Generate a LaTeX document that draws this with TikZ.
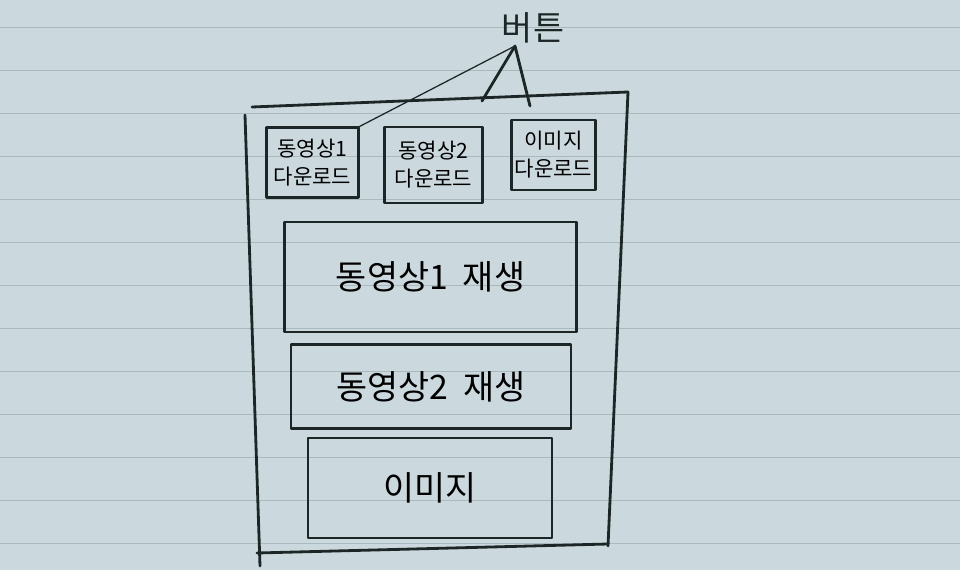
\documentclass[tikz,border=0pt]{standalone}
\usepackage{fontspec}
\newfontfamily\kfont{Noto Sans CJK KR}
\usetikzlibrary{positioning}
\definecolor{paper}{HTML}{CBD9DE}
\definecolor{ruleline}{HTML}{A9B9BE}
\definecolor{ink}{HTML}{1C2626}

\begin{document}
\begin{tikzpicture}[x=0.025cm,y=-0.025cm,
  pen/.style={draw=ink,line width=2pt,line cap=round,line join=round},
  thinpen/.style={draw=ink,line width=0.9pt,line cap=round},
  btnbox/.style={pen,inner sep=0pt,align=center,font=\kfont\fontsize{15}{20}\selectfont},
  playbox/.style={pen,inner sep=0pt,font=\kfont\fontsize{24}{28}\selectfont}]
\fill[paper] (0,0) rectangle (960,570);
\useasboundingbox (0,0) rectangle (960,570);
% paper lines
\foreach \n in {0,...,12}
  \draw[ruleline,line width=1pt] (0,27.5+43*\n) -- (960,27.5+43*\n);
% outer frame
\draw[pen] (252,107) -- (628,92);
\draw[pen] (628,92) -- (608,546);
\draw[pen] (245,115) -- (260,566);
\draw[pen] (257,553) -- (608,544);
% buttons
\node[btnbox,minimum width=2.28cm,minimum height=1.73cm] (dl1) at (312.5,162.5) {동영상1\\다운로드};
\node[btnbox,minimum width=2.43cm,minimum height=1.9cm] (dl2) at (433.5,165) {동영상2\\다운로드};
\node[btnbox,minimum width=2.08cm,minimum height=1.75cm] (dl3) at (553.5,155) {이미지\\다운로드};
% players
\node[playbox,minimum width=7.28cm,minimum height=2.75cm] (play1) at (430.5,277) {동영상1\ \ 재생};
\node[playbox,minimum width=7cm,minimum height=2.08cm] (play2) at (431,386.5) {동영상2\ \ 재생};
\node[playbox,minimum width=6.1cm,minimum height=2.5cm] (img) at (430,488) {이미지};
% label
\node[font=\kfont\fontsize{24}{28}\selectfont,text=ink] (btn) at (533,28) {버튼};
\coordinate (tip) at (515,46);
\coordinate (legL) at (482,101);
\coordinate (legR) at (530,106);
\draw[thinpen] (tip) -- (dl1.north east);
\draw[pen] (legL) -- (tip) -- (legR);
\end{tikzpicture}
\end{document}
